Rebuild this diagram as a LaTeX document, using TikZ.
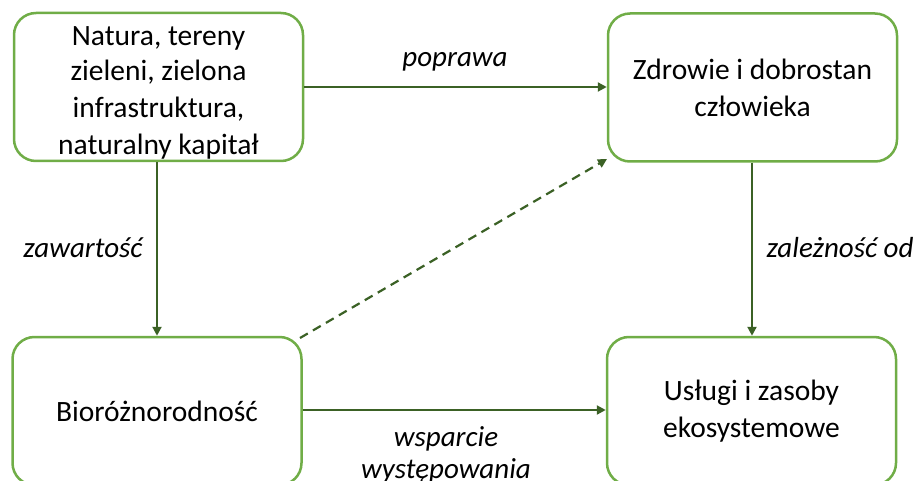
\documentclass[tikz,border=0pt]{standalone}
\usepackage{fontspec}
\setmainfont{Carlito}
\usetikzlibrary{arrows.meta}
\definecolor{boxgreen}{HTML}{70AD47}
\definecolor{arrgreen}{HTML}{3B6125}
\begin{document}
\begin{tikzpicture}[x=1pt,y=-1pt,
  box/.style={draw=boxgreen, line width=2.5pt, rounded corners=22pt, fill=white,
    minimum width=289pt, minimum height=148pt, align=center, inner sep=0pt,
    font=\fontsize{29.5}{37}\selectfont},
  conn/.style={draw=arrgreen, line width=2.2pt, -{Triangle[length=9pt,width=9pt]}},
  lbl/.style={font=\fontsize{29}{32}\selectfont\itshape, inner sep=0pt, align=center}]
\useasboundingbox (0,0) rectangle (918,481);
\clip (0,0) rectangle (918,481);
\node[box, text depth=0pt] (nat) at (158.5,87) {\raisebox{-2pt}{\shortstack{\strut Natura, tereny}}\\zieleni, zielona\\infrastruktura,\\naturalny kapitał};
\node[box] (zdr) at (752.5,87.5) {Zdrowie i dobrostan\\człowieka};
\node[box] (bio) at (157,411) {Bioróżnorodność};
\node[box] (usl) at (751.5,411) {Usługi i zasoby\\ekosystemowe};
\coordinate (dstart) at (300,338);
\coordinate (dend) at (607,159);
\draw[conn] (nat.east |- 0,87) -- (zdr.west |- 0,87);
\draw[conn] (bio.east |- 0,410) -- (usl.west |- 0,410);
\draw[conn] (nat.south -| 157,0) -- (bio.north -| 157,0);
\draw[conn] (zdr.south -| 752,0) -- (usl.north -| 752,0);
\draw[conn, dashed, dash pattern=on 9pt off 6pt] (dstart) -- (dend);
\node[lbl] (l1) at (455,62) {poprawa};
\node[lbl] (l2) at (83,248) {zawartość};
\node[lbl] (l3) at (840,248) {zależność od};
\node[lbl] (l4) at (446,455) {wsparcie\\występowania};
\end{tikzpicture}
\end{document}
